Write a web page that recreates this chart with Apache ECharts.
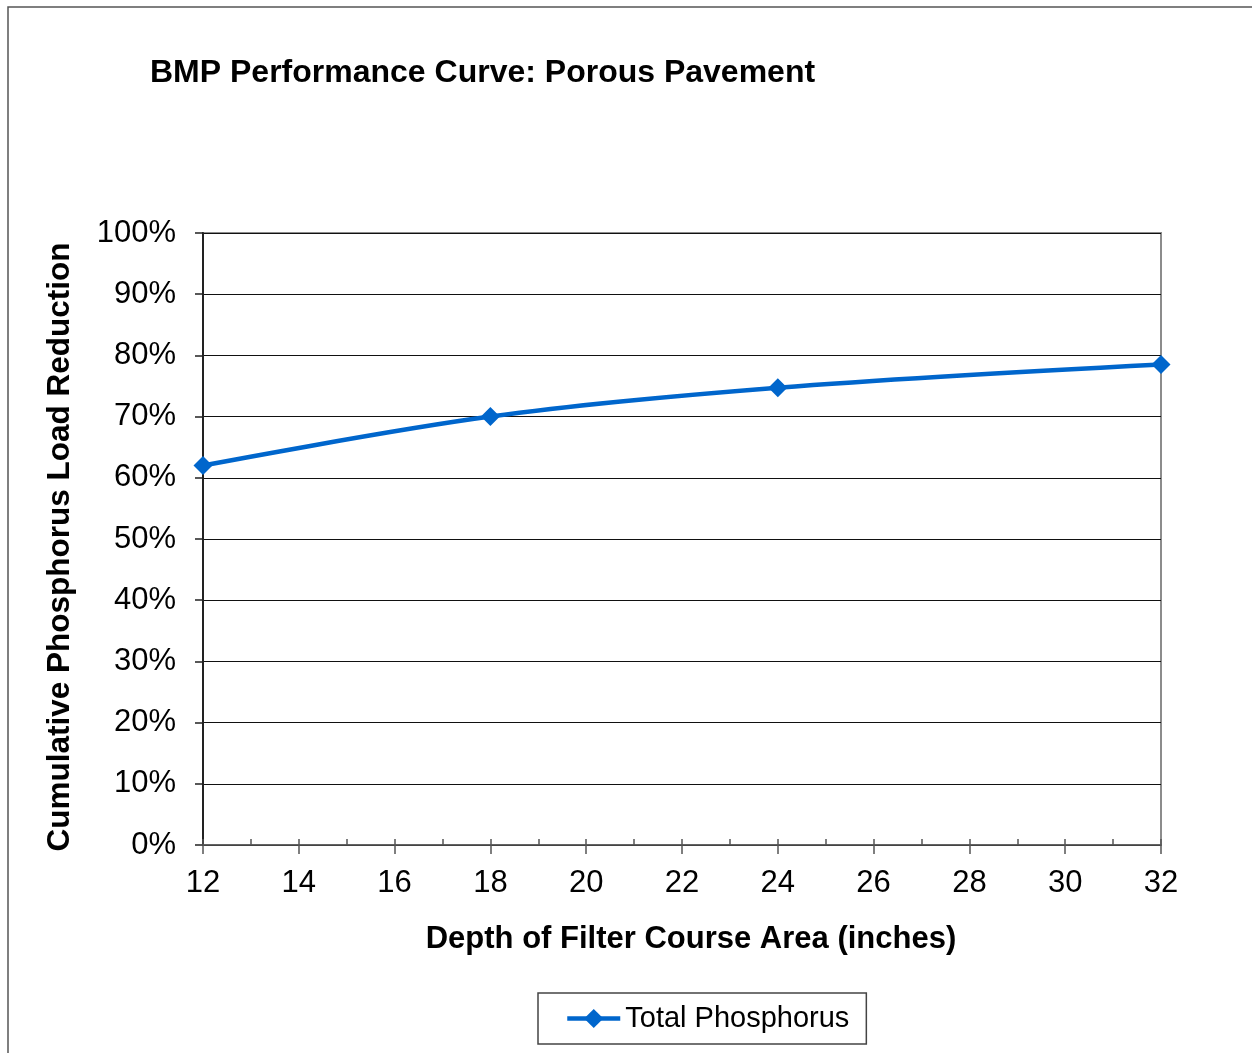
<!DOCTYPE html>
<html>
<head>
<meta charset="utf-8">
<script src="https://cdn.jsdelivr.net/npm/echarts@6/dist/echarts.min.js"></script>
<style>
    html, body { margin: 0; padding: 0; background: #fff; }
    #chart { width: 1252px; height: 1053px; }
</style>
</head>
<body>
<div id="chart"></div>
<script>
// depth of filter course (inches) and cumulative TP load reduction (%)
const depths = [12, 18, 24, 32]
const reduction = [62, 70, 74.7, 78.5]
const seriesName = 'Total Phosphorus'
const chartTitle = 'BMP Performance Curve: Porous Pavement'
const xTitle = 'Depth of Filter Course Area (inches)'
const yTitle = 'Cumulative Phosphorus Load Reduction'

const font = '"Liberation Sans", Arial, sans-serif'
const chart = echarts.init(document.getElementById('chart'))

const points = depths.map((d, i) => [d, reduction[i]])

const option = {
    backgroundColor: '#fff',
    animation: false,
    textStyle: {fontFamily: font, color: '#000'},
    grid: {
        left: 203,
        right: 91,
        top: 233,
        bottom: 208,
        show: true,
        borderColor: '#8c8c8c',
        borderWidth: 2
    },
    xAxis: [
        {
            type: 'value',
            min: 12,
            max: 32,
            interval: 2,
            axisLine: {lineStyle: {color: '#555', width: 1.5}},
            axisTick: {length: 9, lineStyle: {color: '#555', width: 1.5}},
            axisLabel: {fontSize: 31, color: '#000', fontFamily: font, margin: 23},
            splitLine: {show: false}
        },
        {
            // minor ticks drawn inside
            type: 'value',
            position: 'bottom',
            min: 12,
            max: 32,
            interval: 1,
            axisLine: {show: false},
            axisTick: {inside: true, length: 6, lineStyle: {color: '#555', width: 1.5}},
            axisLabel: {show: false},
            splitLine: {show: false}
        }
    ],
    yAxis: {
        type: 'value',
        min: 0,
        max: 100,
        interval: 10,
        axisLine: {show: true, lineStyle: {color: '#222', width: 2}},
        axisTick: {show: true, length: 8, lineStyle: {color: '#222', width: 1.5}},
        axisLabel: {
            fontSize: 31,
            color: '#000',
            fontFamily: font,
            margin: 27,
            formatter: '{value}%'
        },
        splitLine: {lineStyle: {color: '#111', width: 1}}
    },
    legend: {
        left: 538,
        top: 993,
        orient: 'horizontal',
        padding: [11, 17, 11, 27],
        borderColor: '#444',
        borderWidth: 1.5,
        itemWidth: 53,
        itemHeight: 24,
        lineStyle: {width: 4.5},
        textStyle: {fontSize: 29, color: '#000', fontFamily: font},
        data: [seriesName]
    },
    graphic: [
        // outer frame (left and top edges)
        {
            type: 'polyline',
            shape: {points: [[8, 1053], [8, 7], [1252, 7]]},
            style: {stroke: '#555', lineWidth: 1.5, fill: null}
        },
        {
            type: 'text',
            left: 150,
            top: 57,
            style: {
                text: chartTitle,
                font: 'bold 32px ' + font,
                fill: '#000'
            }
        },
        {
            type: 'text',
            x: 691,
            y: 939,
            style: {
                text: xTitle,
                font: 'bold 31px ' + font,
                fill: '#000',
                align: 'center',
                verticalAlign: 'middle'
            }
        },
        {
            type: 'text',
            x: 60,
            y: 547,
            rotation: Math.PI / 2,
            style: {
                text: yTitle,
                font: 'bold 31.5px ' + font,
                fill: '#000',
                align: 'center',
                verticalAlign: 'middle'
            }
        }
    ],
    series: [
        {
            name: seriesName,
            type: 'line',
            data: points,
            smooth: 0.35,
            symbol: 'diamond',
            symbolSize: 19,
            color: '#0066cc',
            lineStyle: {width: 4.5, color: '#0066cc'},
            itemStyle: {color: '#0066cc'}
        }
    ]
}

chart.setOption(option)
</script>
</body>
</html>
